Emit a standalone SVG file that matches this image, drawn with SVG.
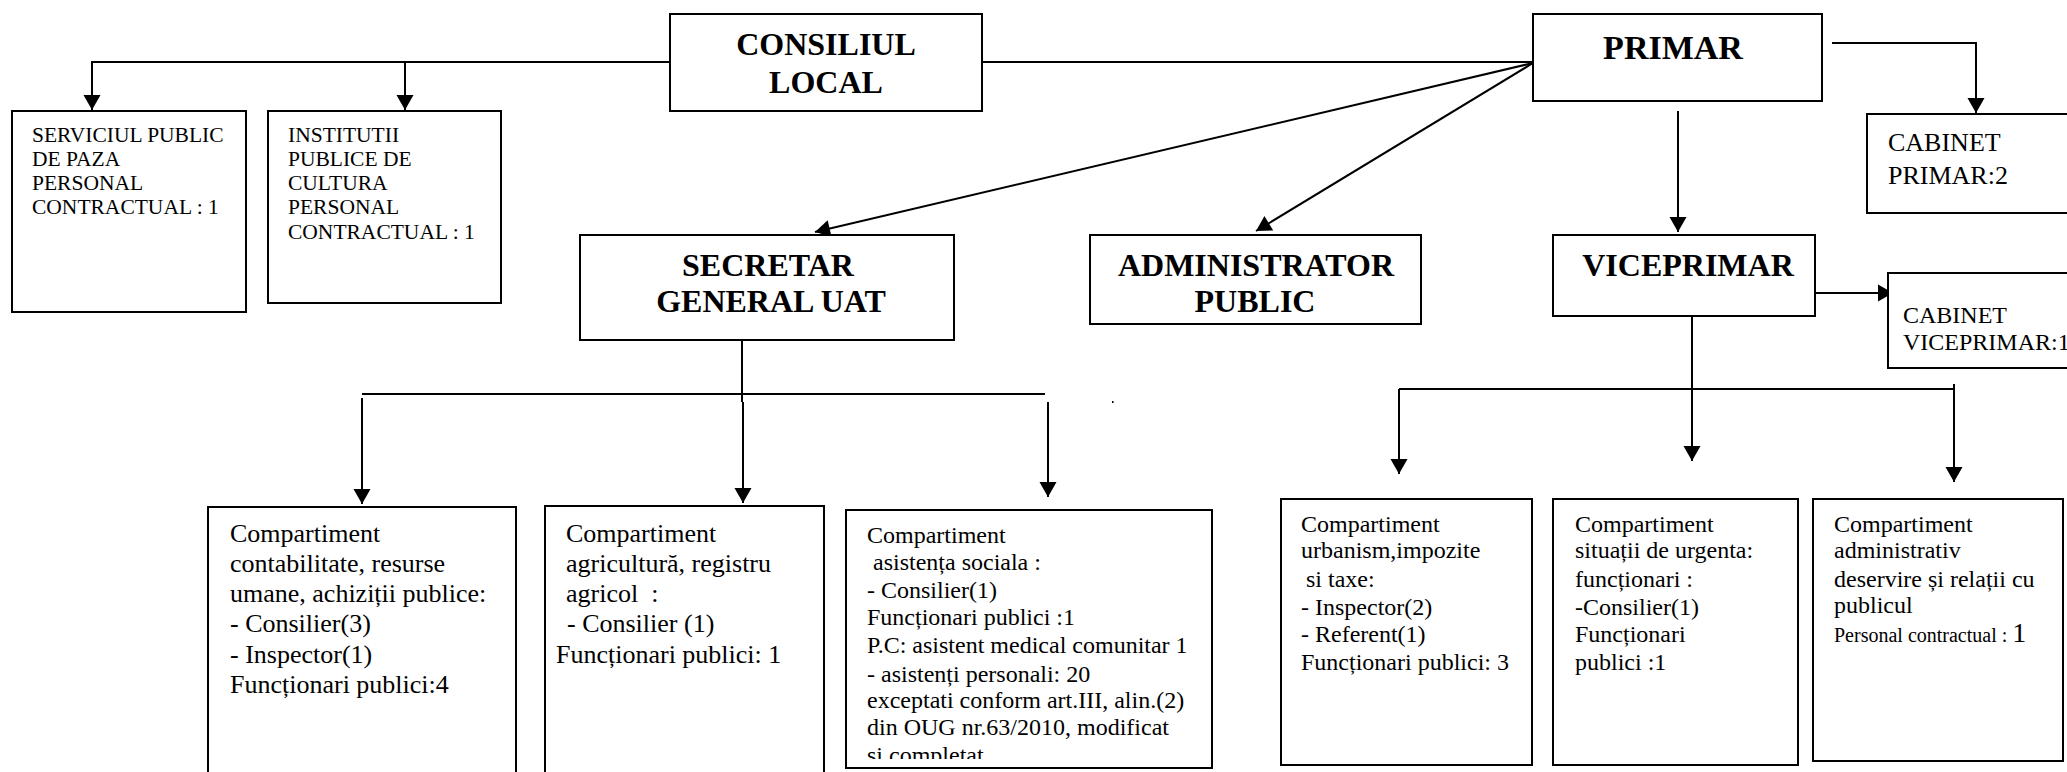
<svg xmlns="http://www.w3.org/2000/svg" width="2067" height="772" viewBox="0 0 2067 772">
<style>
.box{fill:#fff;stroke:#000;stroke-width:2}
.ln{fill:none;stroke:#000;stroke-width:2}
.ar{fill:none;stroke:#000;stroke-width:2;marker-end:url(#ah)}
.h{font-family:"Liberation Serif","Times New Roman",serif;font-weight:bold;font-size:32px;fill:#000;text-anchor:middle}
.t20{font-family:"Liberation Serif","Times New Roman",serif;font-size:21.5px;fill:#000}
.t24{font-family:"Liberation Serif","Times New Roman",serif;font-size:24px;fill:#000}
.t26{font-family:"Liberation Serif","Times New Roman",serif;font-size:26px;fill:#000}
</style>
<defs>
<marker id="ah" markerUnits="userSpaceOnUse" markerWidth="16" markerHeight="17" refX="15" refY="8.5" orient="auto" overflow="visible">
<path d="M0,0 L15,8.5 L0,17 z" fill="#000"/>
</marker>
<clipPath id="clip3"><rect x="846" y="510" width="366" height="249"/></clipPath>
</defs>
<rect width="2067" height="772" fill="#fff"/>

<g id="connectors">
<path class="ar" d="M670,62 H92 V110"/>
<path class="ar" d="M405,62 V110"/>
<path class="ln" d="M982,62 H1533"/>
<path class="ar" d="M1533,63 L815,232"/>
<path class="ar" d="M1533,63 L1256,231"/>
<path class="ar" d="M1832,43 H1976 V113"/>
<path class="ar" d="M1678,111 V232"/>
<path class="ar" d="M1815,293 H1893"/>
<path class="ln" d="M742,340 V402"/>
<path class="ln" d="M362,394 H1045"/>
<path class="ar" d="M362,398 V504"/>
<path class="ar" d="M743,402 V503"/>
<path class="ar" d="M1048,402 V497"/>
<path class="ar" d="M1692,316 V461"/>
<path class="ln" d="M1399,389 H1953"/>
<path class="ar" d="M1399,389 V474"/>
<path class="ar" d="M1954,384 V482"/>
<rect x="1112" y="401" width="1.5" height="2" fill="#000"/>
</g>

<g id="consiliul-local">
<rect class="box" x="670" y="14" width="312" height="97"/>
<text class="h" x="826" y="55">CONSILIUL</text>
<text class="h" x="826" y="93">LOCAL</text>
</g>

<g id="primar">
<rect class="box" x="1533" y="14" width="289" height="87"/>
<text class="h" x="1673" y="59" style="font-size:34px">PRIMAR</text>
</g>

<g id="serviciul-paza">
<rect class="box" x="12" y="111" width="234" height="201"/>
<text class="t20" x="32" y="142">SERVICIUL PUBLIC</text>
<text class="t20" x="32" y="166">DE PAZA</text>
<text class="t20" x="32" y="190">PERSONAL</text>
<text class="t20" x="32" y="214">CONTRACTUAL : 1</text>
</g>

<g id="institutii-cultura">
<rect class="box" x="268" y="111" width="233" height="192"/>
<text class="t20" x="288" y="142">INSTITUTII</text>
<text class="t20" x="288" y="166">PUBLICE DE</text>
<text class="t20" x="288" y="190">CULTURA</text>
<text class="t20" x="288" y="214">PERSONAL</text>
<text class="t20" x="288" y="239">CONTRACTUAL : 1</text>
</g>

<g id="cabinet-primar">
<rect class="box" x="1867" y="114" width="220" height="99"/>
<text class="t26" x="1888" y="151">CABINET</text>
<text class="t26" x="1888" y="184">PRIMAR:2</text>
</g>

<g id="secretar">
<rect class="box" x="580" y="235" width="374" height="105"/>
<text class="h" x="768" y="276">SECRETAR</text>
<text class="h" x="771" y="312">GENERAL UAT</text>
</g>

<g id="administrator">
<rect class="box" x="1090" y="235" width="331" height="89"/>
<text class="h" x="1256" y="276">ADMINISTRATOR</text>
<text class="h" x="1255" y="312">PUBLIC</text>
</g>

<g id="viceprimar">
<rect class="box" x="1553" y="235" width="262" height="81"/>
<text class="h" x="1688" y="276">VICEPRIMAR</text>
</g>

<g id="cabinet-viceprimar">
<rect class="box" x="1888" y="273" width="200" height="95"/>
<text class="t24" x="1903" y="323">CABINET</text>
<text class="t24" x="1903" y="350">VICEPRIMAR:1</text>
</g>

<g id="comp-contabilitate">
<rect class="box" x="208" y="507" width="308" height="300"/>
<text class="t26" x="230" y="542">Compartiment</text>
<text class="t26" x="230" y="572">contabilitate, resurse</text>
<text class="t26" x="230" y="602">umane, achiziții publice:</text>
<text class="t26" x="230" y="632">- Consilier(3)</text>
<text class="t26" x="230" y="663">- Inspector(1)</text>
<text class="t26" x="230" y="693">Funcționari publici:4</text>
</g>

<g id="comp-agricultura">
<rect class="box" x="545" y="506" width="279" height="300"/>
<text class="t26" x="566" y="542">Compartiment</text>
<text class="t26" x="566" y="572">agricultură, registru</text>
<text class="t26" x="566" y="602" xml:space="preserve">agricol  :</text>
<text class="t26" x="567" y="632">- Consilier (1)</text>
<text class="t26" x="556" y="663">Funcționari publici: 1</text>
</g>

<g id="comp-asistenta">
<rect class="box" x="846" y="510" width="366" height="258"/>
<g clip-path="url(#clip3)">
<text class="t24" x="867" y="543">Compartiment</text>
<text class="t24" x="873" y="570">asistența sociala :</text>
<text class="t24" x="867" y="598">- Consilier(1)</text>
<text class="t24" x="867" y="625">Funcționari publici :1</text>
<text class="t24" x="867" y="653">P.C: asistent medical comunitar 1</text>
<text class="t24" x="867" y="682">- asistenți personali: 20</text>
<text class="t24" x="867" y="708">exceptati conform art.III, alin.(2)</text>
<text class="t24" x="867" y="735">din OUG nr.63/2010, modificat</text>
<text class="t24" x="867" y="763">si completat</text>
</g>
</g>

<g id="comp-urbanism">
<rect class="box" x="1281" y="499" width="251" height="266"/>
<text class="t24" x="1301" y="532">Compartiment</text>
<text class="t24" x="1301" y="558">urbanism,impozite</text>
<text class="t24" x="1306" y="587">si taxe:</text>
<text class="t24" x="1301" y="615">- Inspector(2)</text>
<text class="t24" x="1301" y="642">- Referent(1)</text>
<text class="t24" x="1301" y="670">Funcționari publici: 3</text>
</g>

<g id="comp-situatii-urgenta">
<rect class="box" x="1553" y="499" width="245" height="266"/>
<text class="t24" x="1575" y="532">Compartiment</text>
<text class="t24" x="1575" y="558">situații de urgenta:</text>
<text class="t24" x="1575" y="587">funcționari :</text>
<text class="t24" x="1575" y="615">-Consilier(1)</text>
<text class="t24" x="1575" y="642">Funcționari</text>
<text class="t24" x="1575" y="670">publici :1</text>
</g>

<g id="comp-administrativ">
<rect class="box" x="1813" y="499" width="250" height="262"/>
<text class="t24" x="1834" y="532">Compartiment</text>
<text class="t24" x="1834" y="558">administrativ</text>
<text class="t24" x="1834" y="587">deservire și relații cu</text>
<text class="t24" x="1834" y="613">publicul</text>
<text class="t20" x="1834" y="642" xml:space="preserve" style="font-size:20px">Personal contractual : <tspan style="font-size:28px">1</tspan></text>
</g>
</svg>
